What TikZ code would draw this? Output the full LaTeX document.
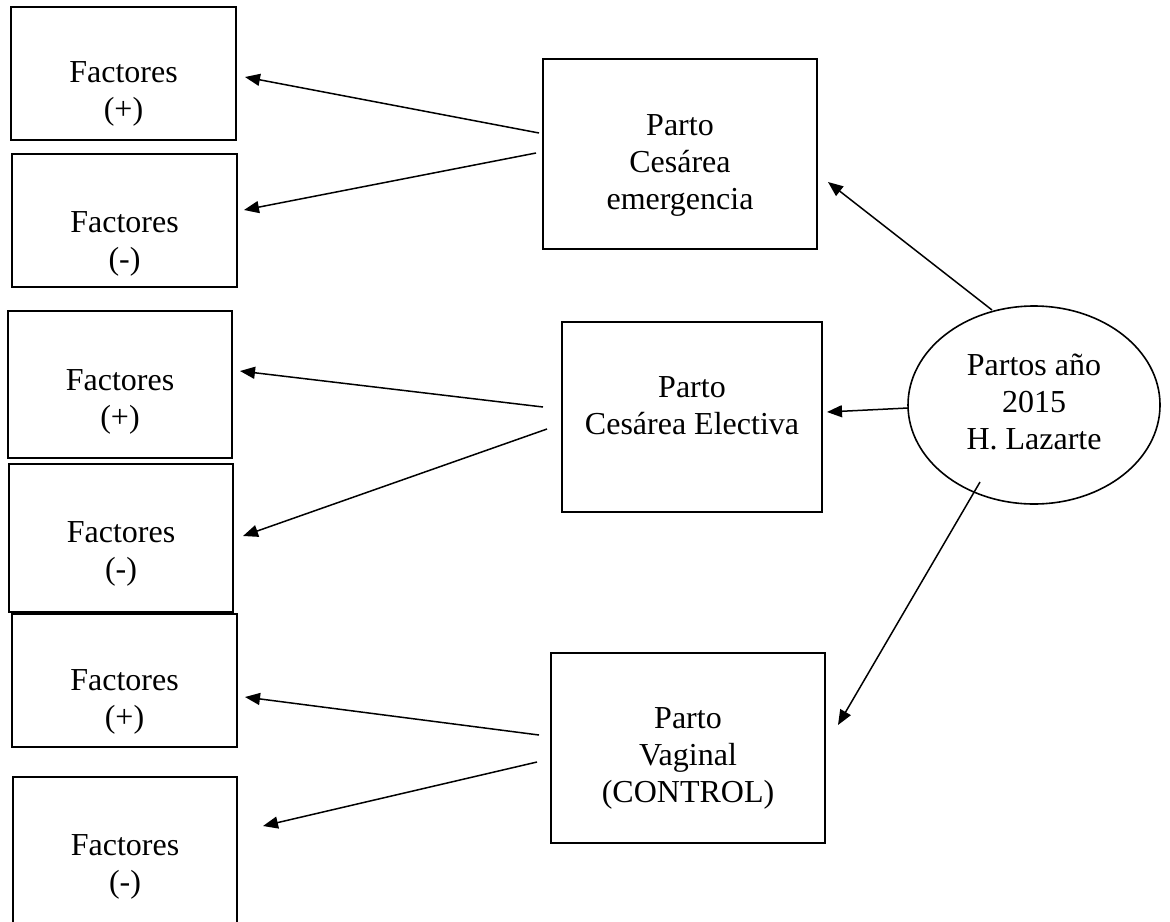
\documentclass[tikz,border=0pt]{standalone}
\usepackage{fontspec}
\setmainfont{Liberation Serif}
\usetikzlibrary{arrows.meta,shapes.geometric}
\newcommand\txtlines[1]{\begin{tabular}[t]{@{}c@{}}#1\end{tabular}}
\tikzset{
  box/.style={draw=black, line width=1pt, rectangle, inner sep=0pt},
  oval/.style={draw=black, line width=0.8pt, ellipse, inner sep=0pt},
  txt/.style={anchor=base, inner sep=0pt, font=\fontsize{16}{18.5}\selectfont},
  arr/.style={line width=0.75pt, -{Triangle[length=7.5pt,width=6pt]}}
}
\begin{document}
\begin{tikzpicture}[x=0.5pt,y=-0.5pt]
\useasboundingbox (0,0) rectangle (1170,921);
\clip (0,0) rectangle (1170,921);
% left factor boxes
\node[box, minimum width=112.5pt, minimum height=66.5pt] (f1) at (123.5,73.5) {};
\node[box, minimum width=112.5pt, minimum height=66.5pt] (f2) at (124.5,220.5) {};
\node[box, minimum width=112pt, minimum height=73.5pt] (f3) at (120,384.5) {};
\node[box, minimum width=112pt, minimum height=74pt] (f4) at (121,538) {};
\node[box, minimum width=112.5pt, minimum height=66.5pt] (f5) at (124.5,680.5) {};
\node[box, minimum width=112pt, minimum height=81.5pt] (f6) at (125,858.5) {};
\node[txt] (t1) at (123.5,82) {\txtlines{Factores\\(+)}};
\node[txt] (t2) at (124.5,232) {\txtlines{Factores\\(-)}};
\node[txt] (t3) at (120,390) {\txtlines{Factores\\(+)}};
\node[txt] (t4) at (121,542) {\txtlines{Factores\\(-)}};
\node[txt] (t5) at (124.5,690) {\txtlines{Factores\\(+)}};
\node[txt] (t6) at (125,855) {\txtlines{Factores\\(-)}};
% middle boxes
\node[box, minimum width=137pt, minimum height=95pt] (emerg) at (680,154) {};
\node[box, minimum width=130pt, minimum height=95pt] (elect) at (692,417) {};
\node[box, minimum width=137pt, minimum height=95pt] (vag) at (688,748) {};
\node[txt] (te) at (680,135) {\txtlines{Parto\\Ces\'area\\emergencia}};
\node[txt] (tl) at (692,397) {\txtlines{Parto\\Ces\'area Electiva}};
\node[txt] (tv) at (688,728) {\txtlines{Parto\\Vaginal\\(CONTROL)}};
% ellipse
\node[oval, minimum width=126pt, minimum height=99pt] (ell) at (1034,405) {};
\node[txt] (tell) at (1034,375) {\txtlines{Partos año\\2015\\H. Lazarte}};
% connector end points
\coordinate (a1s) at (539,133); \coordinate (a1e) at (245,77);
\coordinate (a2s) at (536,153); \coordinate (a2e) at (244,210);
\coordinate (a3s) at (543,407); \coordinate (a3e) at (240,371);
\coordinate (a4s) at (547,429); \coordinate (a4e) at (243,536);
\coordinate (a5s) at (539,735); \coordinate (a5e) at (245,697);
\coordinate (a6s) at (537,762); \coordinate (a6e) at (263,826);
\coordinate (a7s) at (992,310); \coordinate (a7e) at (828,182);
\coordinate (a8s) at (908,408); \coordinate (a8e) at (827,412);
\coordinate (a9s) at (980,482); \coordinate (a9e) at (838,725);
\draw[arr] (a1s) -- (a1e);
\draw[arr] (a2s) -- (a2e);
\draw[arr] (a3s) -- (a3e);
\draw[arr] (a4s) -- (a4e);
\draw[arr] (a5s) -- (a5e);
\draw[arr] (a6s) -- (a6e);
\draw[arr] (a7s) -- (a7e);
\draw[arr] (a8s) -- (a8e);
\draw[arr] (a9s) -- (a9e);
\end{tikzpicture}
\end{document}
